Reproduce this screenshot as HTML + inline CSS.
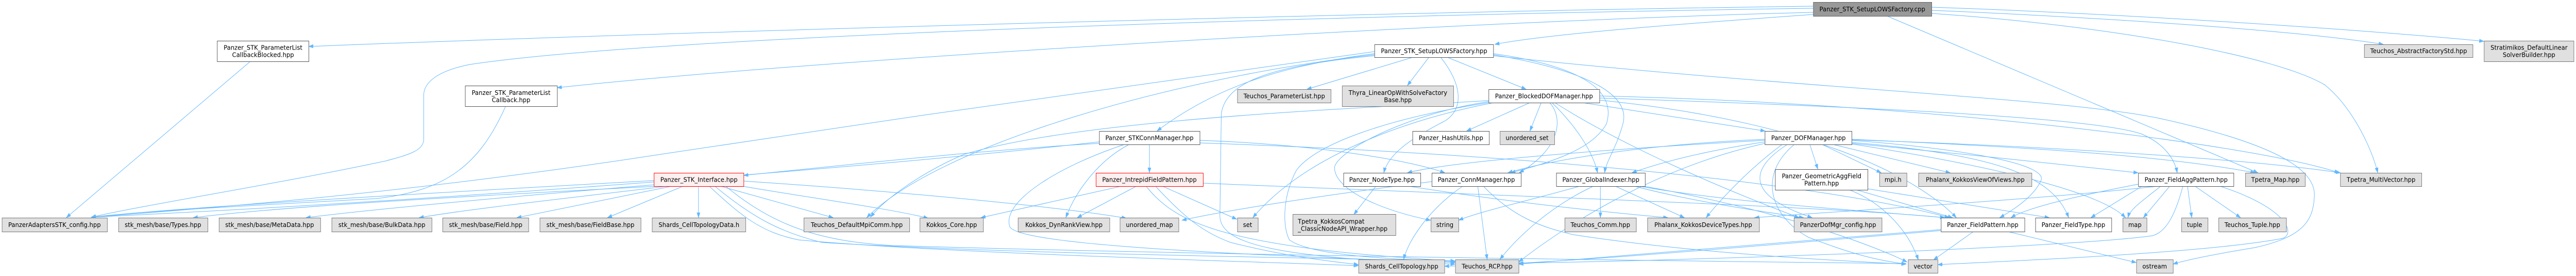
<!DOCTYPE html>
<html>
<head>
<meta charset="utf-8">
<style>
html,body{margin:0;padding:0;background:#ffffff;overflow:hidden;width:100%;height:535px;}
svg{display:block;width:100vw;height:535px;}
text{font-family:"DejaVu Sans","Liberation Sans",sans-serif;font-size:12.7px;fill:#000;}
.e{fill:none;stroke:#63B8FF;stroke-width:1;}
.w{fill:#ffffff;stroke:#555555;stroke-width:1;}
.g{fill:#e0e0e0;stroke:#777777;stroke-width:1;}
.r{fill:#fff0f0;stroke:#ff0000;stroke-width:1;}
.root{fill:#999999;stroke:#666666;stroke-width:1;}
</style>
</head>
<body>
<svg width="100%" height="535" viewBox="0 0 5484 535" preserveAspectRatio="none" xmlns="http://www.w3.org/2000/svg">
<defs>
<marker id="a" markerWidth="11" markerHeight="8" refX="10" refY="3.5" orient="auto" markerUnits="userSpaceOnUse">
<path d="M0,0 L10,3.5 L0,7 z" fill="#63B8FF" stroke="#63B8FF" stroke-width="0.5"/>
</marker>
</defs>
<rect x="0" y="0" width="5484" height="535" fill="#ffffff"/>

<g>
<!-- root edges -->
<path class="e" marker-end="url(#a)" d="M3860,12 C3000,22 1500,60 657,90"/>
<path class="e" marker-end="url(#a)" d="M3860,16 C2800,30 1400,70 1000,125 C930,138 902,160 902,185 L902,270 C902,292 870,300 821,312 C600,355 320,395 194,421"/>
<path class="e" marker-end="url(#a)" d="M3860,24 C3200,38 1800,110 1186,170"/>
<path class="e" marker-end="url(#a)" d="M3860,28 C3600,45 3300,65 3182,86"/>
<path class="e" marker-end="url(#a)" d="M4112,20 C4500,35 4900,60 5074,86"/>
<path class="e" marker-end="url(#a)" d="M4112,14 C4500,26 5000,55 5288,80"/>
<path class="e" marker-end="url(#a)" d="M4112,26 C4500,50 4850,110 4950,165 C5010,210 5050,290 5062,335"/>
<path class="e" marker-end="url(#a)" d="M4017,31 L4807,335"/>

<!-- SetupLOWSFactory.hpp -->
<path class="e" marker-end="url(#a)" d="M2926,100 C2600,140 1900,230 1400,300 C900,370 500,400 194,421"/>
<path class="e" marker-end="url(#a)" d="M2926,104 C2750,125 2600,160 2463,254"/>
<path class="e" marker-end="url(#a)" d="M2926,106 C2500,150 2000,280 1845,422"/>
<path class="e" marker-end="url(#a)" d="M2926,108 C2700,128 2610,160 2600,220 L2597,420 C2600,470 2700,500 3098,512"/>
<path class="e" marker-end="url(#a)" d="M3008,111 L2782,173"/>
<path class="e" marker-end="url(#a)" d="M3042,111 L2996,166"/>
<path class="e" marker-end="url(#a)" d="M3081,111 L3249,173"/>
<path class="e" marker-end="url(#a)" d="M3067,111 C3110,160 3120,210 3075,235 C3000,270 2955,300 2946,335"/>
<path class="e" marker-end="url(#a)" d="M3179,106 C3400,140 3470,190 3455,240 C3440,290 3420,310 3416,335"/>
<path class="e" marker-end="url(#a)" d="M3179,104 C3380,130 3440,180 3420,240 C3390,290 3300,315 3216,335"/>
<path class="e" marker-end="url(#a)" d="M3179,108 C3800,170 4400,190 4600,230 C4850,280 4930,330 4927,380 C4925,430 4900,460 4800,480 C4700,495 4650,505 4626,512"/>

<!-- BlockedDOFManager -->
<path class="e" marker-end="url(#a)" d="M3257,199 L3122,254"/>
<path class="e" marker-end="url(#a)" d="M3281,199 L3257,254"/>
<path class="e" marker-end="url(#a)" d="M3299,199 C3330,230 3320,290 3234,335"/>
<path class="e" marker-end="url(#a)" d="M3304,199 C3350,240 3390,290 3401,335"/>
<path class="e" marker-end="url(#a)" d="M3369,199 L3758,254"/>
<path class="e" marker-end="url(#a)" d="M3169,197 C3000,220 2850,290 2841,324 C2840,370 2950,410 3046,427"/>
<path class="e" marker-end="url(#a)" d="M3169,195 C2900,210 2300,230 2050,300 C1950,340 1880,390 1853,421"/>
<path class="e" marker-end="url(#a)" d="M3405,190 C3900,205 4450,225 4560,260 C4610,280 4630,310 4635,335"/>
<path class="e" marker-end="url(#a)" d="M3310,199 C3450,280 3650,360 3830,422"/>
<path class="e" marker-end="url(#a)" d="M3405,194 C3900,240 4100,360 4165,422"/>
<path class="e" marker-end="url(#a)" d="M3180,199 C3000,230 2780,300 2667,422"/>
<path class="e" marker-end="url(#a)" d="M3405,186 C4100,200 4800,280 4980,335"/>
<path class="e" marker-end="url(#a)" d="M3169,199 C2950,230 2800,280 2760,330 C2730,380 2730,440 2745,465 C2790,495 2950,502 3098,507"/>

<!-- DOFManager -->
<path class="e" marker-end="url(#a)" d="M3853,280 L3870,328"/>
<path class="e" marker-end="url(#a)" d="M3879,280 L4005,335"/>
<path class="e" marker-end="url(#a)" d="M3902,280 L4152,335"/>
<path class="e" marker-end="url(#a)" d="M3794,280 C3720,330 3660,390 3632,422"/>
<path class="e" marker-end="url(#a)" d="M3805,280 C3720,330 3720,380 3858,422"/>
<path class="e" marker-end="url(#a)" d="M3820,280 C3740,340 3770,420 3850,460 C3950,495 4000,505 4058,512"/>
<path class="e" marker-end="url(#a)" d="M3942,272 C4200,290 4360,320 4345,350 C4330,380 4290,405 4257,422"/>
<path class="e" marker-end="url(#a)" d="M3942,276 C4250,300 4370,340 4404,422"/>
<path class="e" marker-end="url(#a)" d="M3942,270 C4300,285 4600,300 4801,335"/>
<path class="e" marker-end="url(#a)" d="M3942,271 C4400,285 4800,310 4983,335"/>
<path class="e" marker-end="url(#a)" d="M3757,272 C3500,285 3100,310 2996,335"/>
<path class="e" marker-end="url(#a)" d="M3757,275 C3650,290 3550,310 3474,335"/>
<path class="e" marker-end="url(#a)" d="M3757,270 C3500,280 3300,310 3210,335"/>
<path class="e" marker-end="url(#a)" d="M3757,278 C3500,330 3300,460 3233,508"/>
<path class="e" marker-end="url(#a)" d="M3942,278 C4200,300 4400,320 4552,335"/>
<path class="e" marker-end="url(#a)" d="M3942,279 C4300,330 4480,380 4525,422"/>

<!-- GeometricAggFieldPattern -->
<path class="e" marker-end="url(#a)" d="M3952,368 L4157,422"/>
<path class="e" marker-end="url(#a)" d="M3976,366 L4363,422"/>
<path class="e" marker-end="url(#a)" d="M3937,368 C4000,390 4060,440 4084,504"/>

<!-- FieldPattern -->
<path class="e" marker-end="url(#a)" d="M4201,449 L4116,504"/>
<path class="e" marker-end="url(#a)" d="M4275,449 L4548,509"/>
<path class="e" marker-end="url(#a)" d="M4132,445 C3800,470 3400,500 3233,512"/>
<path class="e" marker-end="url(#a)" d="M4132,447 C3700,480 3300,512 3075,516"/>

<!-- FieldAggPattern -->
<path class="e" marker-end="url(#a)" d="M4619,361 L4563,422"/>
<path class="e" marker-end="url(#a)" d="M4657,361 L4666,422"/>
<path class="e" marker-end="url(#a)" d="M4673,361 L4770,422"/>
<path class="e" marker-end="url(#a)" d="M4726,361 C4860,400 4890,450 4860,462 C4700,490 4300,505 4125,513"/>
<path class="e" marker-end="url(#a)" d="M4647,361 C4630,420 4610,450 4582,457 C4400,480 3600,505 3233,510"/>
<path class="e" marker-end="url(#a)" d="M4552,357 C4450,375 4320,400 4281,422"/>
<path class="e" marker-end="url(#a)" d="M4594,361 C4300,390 3900,410 3735,422"/>
<path class="e" marker-end="url(#a)" d="M4560,361 L4451,422"/>
<path class="e" marker-end="url(#a)" d="M4600,361 C4560,390 4535,405 4530,422"/>

<!-- IntrepidFieldPattern -->
<path class="e" marker-end="url(#a)" d="M2387,361 L2088,422"/>
<path class="e" marker-end="url(#a)" d="M2419,361 L2293,422"/>
<path class="e" marker-end="url(#a)" d="M2475,361 L2633,425"/>
<path class="e" marker-end="url(#a)" d="M2460,361 C2520,420 2560,450 2620,470 C2750,500 2850,508 2892,513"/>
<path class="e" marker-end="url(#a)" d="M2561,355 C3200,380 3900,400 4140,422"/>
<path class="e" marker-end="url(#a)" d="M2440,361 C2500,430 2600,480 3098,506"/>

<!-- STKConnManager -->
<path class="e" marker-end="url(#a)" d="M2447,280 L2447,335"/>
<path class="e" marker-end="url(#a)" d="M2340,278 C2100,290 1800,320 1583,340"/>
<path class="e" marker-end="url(#a)" d="M2404,280 C2340,310 2290,370 2269,422"/>
<path class="e" marker-end="url(#a)" d="M2394,280 C2260,320 2130,390 2150,440 C2170,470 2500,490 3098,509"/>
<path class="e" marker-end="url(#a)" d="M2554,272 C2800,280 3000,310 3076,335"/>
<path class="e" marker-end="url(#a)" d="M2554,277 C3300,300 3900,360 4150,422"/>
<path class="e" marker-end="url(#a)" d="M2340,275 C1800,330 900,390 194,421"/>

<!-- STK_Interface -->
<path class="e" marker-end="url(#a)" d="M1392,350 C1000,370 400,400 194,421"/>
<path class="e" marker-end="url(#a)" d="M1400,361 C1000,380 600,400 411,422"/>
<path class="e" marker-end="url(#a)" d="M1395,358 C1100,380 800,405 651,422"/>
<path class="e" marker-end="url(#a)" d="M1420,361 C1200,385 1000,405 892,422"/>
<path class="e" marker-end="url(#a)" d="M1430,361 L1100,422"/>
<path class="e" marker-end="url(#a)" d="M1454,361 L1293,422"/>
<path class="e" marker-end="url(#a)" d="M1487,361 L1487,422"/>
<path class="e" marker-end="url(#a)" d="M1534,361 L1774,422"/>
<path class="e" marker-end="url(#a)" d="M1510,361 C1580,420 1620,450 1700,465 C2000,490 2600,505 2892,515"/>
<path class="e" marker-end="url(#a)" d="M1522,361 C1600,420 1660,450 1750,470 C2200,495 2900,500 3098,507"/>
<path class="e" marker-end="url(#a)" d="M1581,361 C1700,380 1900,405 1976,423"/>
<path class="e" marker-end="url(#a)" d="M1583,351 C1900,370 2250,400 2398,423"/>
<path class="e" marker-end="url(#a)" d="M1545,361 C1650,440 1750,468 1900,476 C2600,495 3500,505 4058,511"/>

<!-- ParameterList callbacks -->
<path class="e" marker-end="url(#a)" d="M1076,207 C1020,320 950,370 800,385 C500,400 300,410 194,421"/>
<path class="e" marker-end="url(#a)" d="M533,119 L141,422"/>

<!-- NodeType -->
<path class="e" marker-end="url(#a)" d="M2929,361 L2882,416"/>
<path class="e" marker-end="url(#a)" d="M2999,361 C3200,390 3400,410 3551,422"/>

<!-- ConnManager -->
<path class="e" marker-end="url(#a)" d="M3114,361 C3050,400 3000,460 2988,503"/>
<path class="e" marker-end="url(#a)" d="M3146,361 L3166,503"/>
<path class="e" marker-end="url(#a)" d="M3158,361 C3220,420 3280,440 3350,455 C3600,490 3900,505 4058,512"/>
<path class="e" marker-end="url(#a)" d="M3048,352 C2800,380 2600,410 2516,427"/>

<!-- GlobalIndexer -->
<path class="e" marker-end="url(#a)" d="M3363,361 C3250,390 3150,410 3105,427"/>
<path class="e" marker-end="url(#a)" d="M3407,361 L3407,422"/>
<path class="e" marker-end="url(#a)" d="M3439,361 L3586,422"/>
<path class="e" marker-end="url(#a)" d="M3392,361 C3300,400 3230,460 3193,503"/>
<path class="e" marker-end="url(#a)" d="M3480,361 C3600,390 3750,410 3840,422"/>
<path class="e" marker-end="url(#a)" d="M3490,361 C3700,395 4000,410 4140,422"/>
<path class="e" marker-end="url(#a)" d="M3500,361 C3800,410 4000,480 4060,508"/>
</g>

<!-- ===== NODES ===== -->
<!-- R0 -->
<rect class="root" x="3860.5" y="4.5" width="252" height="27"/>
<text x="3986" y="22" text-anchor="middle">Panzer_STK_SetupLOWSFactory.cpp</text>

<!-- R1 -->
<rect class="w" x="462.5" y="79.5" width="195" height="40"/>
<text x="560" y="96.3" text-anchor="middle">Panzer_STK_ParameterList</text>
<text x="560" y="110.7" text-anchor="middle">CallbackBlocked.hpp</text>

<rect class="w" x="2926.5" y="86.5" width="253" height="25"/>
<text x="3053" y="103" text-anchor="middle">Panzer_STK_SetupLOWSFactory.hpp</text>

<rect class="g" x="5033.5" y="86.5" width="231" height="25"/>
<text x="5149" y="103" text-anchor="middle">Teuchos_AbstractFactoryStd.hpp</text>

<rect class="g" x="5288.5" y="79.5" width="191" height="40"/>
<text x="5384" y="96.3" text-anchor="middle">Stratimikos_DefaultLinear</text>
<text x="5384" y="110.7" text-anchor="middle">SolverBuilder.hpp</text>

<!-- R2 -->
<rect class="w" x="990.5" y="166.5" width="196" height="40"/>
<text x="1088" y="183.8" text-anchor="middle">Panzer_STK_ParameterList</text>
<text x="1088" y="198.2" text-anchor="middle">Callback.hpp</text>

<rect class="g" x="2634.5" y="173.5" width="199" height="26"/>
<text x="2734" y="190.5" text-anchor="middle">Teuchos_ParameterList.hpp</text>

<rect class="g" x="2857.5" y="166.5" width="237" height="40"/>
<text x="2976" y="183.8" text-anchor="middle">Thyra_LinearOpWithSolveFactory</text>
<text x="2976" y="198.2" text-anchor="middle">Base.hpp</text>

<rect class="w" x="3169.5" y="173.5" width="236" height="26"/>
<text x="3287" y="190.5" text-anchor="middle">Panzer_BlockedDOFManager.hpp</text>

<!-- R3 -->
<rect class="w" x="2340.5" y="254.5" width="214" height="26"/>
<text x="2447" y="271.5" text-anchor="middle">Panzer_STKConnManager.hpp</text>

<rect class="w" x="3007.5" y="254.5" width="163" height="26"/>
<text x="3089" y="271.5" text-anchor="middle">Panzer_HashUtils.hpp</text>

<rect class="g" x="3193.5" y="254.5" width="116" height="26"/>
<text x="3251" y="271.5" text-anchor="middle">unordered_set</text>

<rect class="w" x="3757.5" y="254.5" width="185" height="26"/>
<text x="3850" y="271.5" text-anchor="middle">Panzer_DOFManager.hpp</text>

<!-- R4 -->
<rect class="r" x="1392.5" y="335.5" width="191" height="26"/>
<text x="1488" y="352.5" text-anchor="middle">Panzer_STK_Interface.hpp</text>

<rect class="r" x="2333.5" y="335.5" width="228" height="26"/>
<text x="2447" y="352.5" text-anchor="middle">Panzer_IntrepidFieldPattern.hpp</text>

<rect class="w" x="2860.5" y="335.5" width="164" height="26"/>
<text x="2942" y="352.5" text-anchor="middle">Panzer_NodeType.hpp</text>

<rect class="w" x="3048.5" y="335.5" width="190" height="26"/>
<text x="3143" y="352.5" text-anchor="middle">Panzer_ConnManager.hpp</text>

<rect class="w" x="3313.5" y="335.5" width="189" height="26"/>
<text x="3408" y="352.5" text-anchor="middle">Panzer_GlobalIndexer.hpp</text>

<rect class="w" x="3779.5" y="328.5" width="197" height="40"/>
<text x="3878" y="345.3" text-anchor="middle">Panzer_GeometricAggField</text>
<text x="3878" y="359.7" text-anchor="middle">Pattern.hpp</text>

<rect class="g" x="4001.5" y="335.5" width="58" height="26"/>
<text x="4030" y="352.5" text-anchor="middle">mpi.h</text>

<rect class="g" x="4084.5" y="335.5" width="241" height="26"/>
<text x="4205" y="352.5" text-anchor="middle">Phalanx_KokkosViewOfViews.hpp</text>

<rect class="w" x="4552.5" y="335.5" width="203" height="26"/>
<text x="4654" y="352.5" text-anchor="middle">Panzer_FieldAggPattern.hpp</text>

<rect class="g" x="4780.5" y="335.5" width="127" height="26"/>
<text x="4844" y="352.5" text-anchor="middle">Tpetra_Map.hpp</text>

<rect class="g" x="4982.5" y="335.5" width="173" height="26"/>
<text x="5069" y="352.5" text-anchor="middle">Tpetra_MultiVector.hpp</text>

<!-- R5 -->
<rect class="g" x="4.5" y="422.5" width="224" height="27"/>
<text x="116" y="440" text-anchor="middle">PanzerAdaptersSTK_config.hpp</text>

<rect class="g" x="252.5" y="422.5" width="190" height="27"/>
<text x="347" y="440" text-anchor="middle">stk_mesh/base/Types.hpp</text>

<rect class="g" x="466.5" y="422.5" width="216" height="27"/>
<text x="574" y="440" text-anchor="middle">stk_mesh/base/MetaData.hpp</text>

<rect class="g" x="706.5" y="422.5" width="213" height="27"/>
<text x="813" y="440" text-anchor="middle">stk_mesh/base/BulkData.hpp</text>

<rect class="g" x="942.5" y="422.5" width="183" height="27"/>
<text x="1034" y="440" text-anchor="middle">stk_mesh/base/Field.hpp</text>

<rect class="g" x="1149.5" y="422.5" width="215" height="27"/>
<text x="1257" y="440" text-anchor="middle">stk_mesh/base/FieldBase.hpp</text>

<rect class="g" x="1388.5" y="422.5" width="199" height="27"/>
<text x="1488" y="440" text-anchor="middle">Shards_CellTopologyData.h</text>

<rect class="g" x="1711.5" y="422.5" width="225" height="27"/>
<text x="1824" y="440" text-anchor="middle">Teuchos_DefaultMpiComm.hpp</text>

<rect class="g" x="1958.5" y="422.5" width="135" height="27"/>
<text x="2026" y="440" text-anchor="middle">Kokkos_Core.hpp</text>

<rect class="g" x="2167.5" y="422.5" width="195" height="27"/>
<text x="2265" y="440" text-anchor="middle">Kokkos_DynRankView.hpp</text>

<rect class="g" x="2384.5" y="422.5" width="125" height="27"/>
<text x="2447" y="440" text-anchor="middle">unordered_map</text>

<rect class="g" x="2634.5" y="422.5" width="44" height="27"/>
<text x="2656" y="440" text-anchor="middle">set</text>

<rect class="g" x="2752.5" y="415.5" width="219" height="41"/>
<text x="2763" y="433.3">Tpetra_KokkosCompat</text>
<text x="2763" y="447.7">_ClassicNodeAPI_Wrapper.hpp</text>

<rect class="g" x="3046.5" y="422.5" width="59" height="27"/>
<text x="3076" y="440" text-anchor="middle">string</text>

<rect class="g" x="3331.5" y="422.5" width="152" height="27"/>
<text x="3407" y="440" text-anchor="middle">Teuchos_Comm.hpp</text>

<rect class="g" x="3507.5" y="422.5" width="238" height="27"/>
<text x="3626" y="440" text-anchor="middle">Phalanx_KokkosDeviceTypes.hpp</text>

<rect class="g" x="3819.5" y="422.5" width="187" height="27"/>
<text x="3913" y="440" text-anchor="middle">PanzerDofMgr_config.hpp</text>

<rect class="w" x="4132.5" y="422.5" width="178" height="27"/>
<text x="4221" y="440" text-anchor="middle">Panzer_FieldPattern.hpp</text>

<rect class="w" x="4333.5" y="422.5" width="162" height="27"/>
<text x="4414" y="440" text-anchor="middle">Panzer_FieldType.hpp</text>

<rect class="g" x="4519.5" y="422.5" width="51" height="27"/>
<text x="4545" y="440" text-anchor="middle">map</text>

<rect class="g" x="4644.5" y="422.5" width="56" height="27"/>
<text x="4672" y="440" text-anchor="middle">tuple</text>

<rect class="g" x="4723.5" y="422.5" width="144" height="27"/>
<text x="4795" y="440" text-anchor="middle">Teuchos_Tuple.hpp</text>

<!-- R6 -->
<rect class="g" x="2892.5" y="503.5" width="183" height="26"/>
<text x="2984" y="520.5" text-anchor="middle">Shards_CellTopology.hpp</text>

<rect class="g" x="3098.5" y="503.5" width="135" height="26"/>
<text x="3166" y="520.5" text-anchor="middle">Teuchos_RCP.hpp</text>

<rect class="g" x="4062.5" y="503.5" width="63" height="26"/>
<text x="4094" y="520.5" text-anchor="middle">vector</text>

<rect class="g" x="4548.5" y="503.5" width="78" height="26"/>
<text x="4587" y="520.5" text-anchor="middle">ostream</text>
</svg>
</body>
</html>
